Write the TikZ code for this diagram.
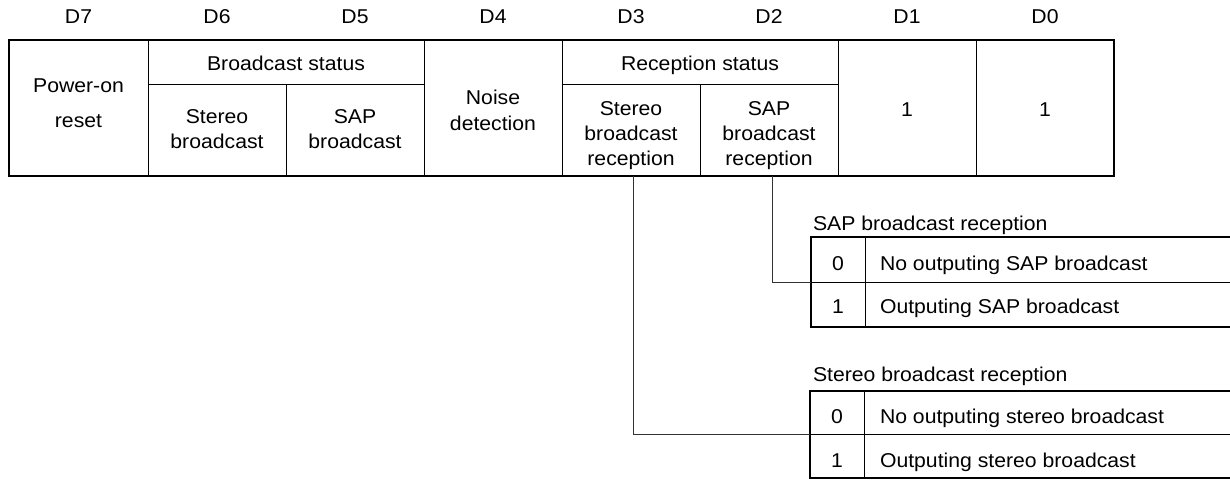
\documentclass[tikz,border=0pt]{standalone}
\usepackage{fontspec}
\setmainfont[FakeStretch=1.06]{Liberation Sans}
\begin{document}
\begin{tikzpicture}[x=1pt,y=-1pt,
  every node/.style={inner sep=0pt, outer sep=0pt},
  txt/.style={font=\fontsize{20}{25}\selectfont, align=center},
  wide/.style={font=\fontsize{20}{35}\selectfont, align=center},
  outerline/.style={line width=2.4pt, black},
  innerline/.style={line width=1pt, black},
  conn/.style={line width=1pt, black!80}]
\useasboundingbox (0,0) rectangle (1230,481);
\clip (0,0) rectangle (1230,481);
% headers
\foreach \n/\x in {7/78.5,6/217,5/355,4/493,3/631,2/769,1/907,0/1045}
  \node[txt, anchor=base] (h\n) at (\x,24) {D\n};
% main table grid
\draw[innerline] (148,40) -- (148,176);
\draw[innerline] (286,85) -- (286,176);
\draw[innerline] (424,40) -- (424,176);
\draw[innerline] (562,40) -- (562,176);
\draw[innerline] (700,85) -- (700,176);
\draw[innerline] (838,40) -- (838,176);
\draw[innerline] (976,40) -- (976,176);
\draw[innerline] (148,85) -- (424,85);
\draw[innerline] (562,85) -- (838,85);
\draw[outerline] (9,40) rectangle (1114,176);
% cell texts
\node[txt, anchor=base] (bs) at (286,71) {Broadcast status};
\node[txt, anchor=base] (rs) at (700,71) {Reception status};
\node[wide] (c7) at (78.5,103.3) {Power-on\\reset};
\node[txt] (c6) at (217,129.3) {Stereo\\broadcast};
\node[txt] (c5) at (355,129.3) {SAP\\broadcast};
\node[txt, font=\fontsize{20}{25.7}\selectfont] (c4) at (493,110.6) {Noise\\detection};
\node[txt] (c3) at (631,135.2) {Stereo\\broadcast\\reception};
\node[txt] (c2) at (769,135.2) {SAP\\broadcast\\reception};
\node[txt, anchor=base] (c1) at (907,117) {1};
\node[txt, anchor=base] (c0) at (1045,117) {1};
% SAP broadcast reception table
\node[txt, anchor=base west] (sapt) at (813,230.7) {SAP broadcast reception};
\draw[innerline] (865,237) -- (865,327);
\draw[innerline] (811,282) -- (1240,282);
\draw[outerline] (1240,237) -- (811,237) -- (811,327) -- (1240,327);
\node[txt, anchor=base] (s0) at (838,270) {0};
\node[txt, anchor=base west] (s0t) at (880,270) {No outputing SAP broadcast};
\node[txt, anchor=base] (s1) at (838,313) {1};
\node[txt, anchor=base west] (s1t) at (880,313) {Outputing SAP broadcast};
% Stereo broadcast reception table
\node[txt, anchor=base west] (stt) at (813,381) {Stereo broadcast reception};
\draw[innerline] (864,391) -- (864,478);
\draw[innerline] (810,434) -- (1240,434);
\draw[outerline] (1240,391) -- (810,391) -- (810,478) -- (1240,478);
\node[txt, anchor=base] (t0) at (837,423) {0};
\node[txt, anchor=base west] (t0t) at (880,423) {No outputing stereo broadcast};
\node[txt, anchor=base] (t1) at (837,467) {1};
\node[txt, anchor=base west] (t1t) at (880,467) {Outputing stereo broadcast};
% connectors
\coordinate (d3b) at (633,176);
\coordinate (d2b) at (772,176);
\coordinate (sapin) at (811,282);
\coordinate (stin) at (810,434);
\draw[conn] (d2b) |- (sapin);
\draw[conn] (d3b) |- (stin);
\end{tikzpicture}
\end{document}
